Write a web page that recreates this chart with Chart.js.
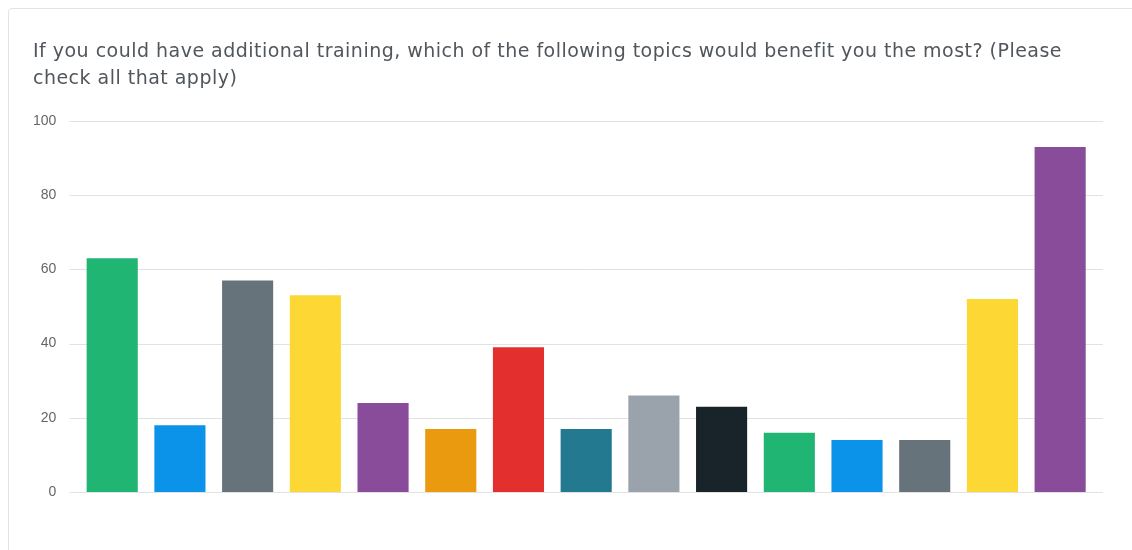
<!DOCTYPE html>
<html>
<head>
<meta charset="utf-8">
<script src="https://cdn.jsdelivr.net/npm/chart.js@4"></script>
<style>
    html, body { margin: 0; padding: 0; background: #fff; }
    body { width: 1132px; height: 550px; overflow: hidden; position: relative; }
    .card {
        position: absolute; left: 8px; top: 8px; width: 1140px; height: 560px;
        border: 1px solid #e3e3e3; border-radius: 4px; box-sizing: border-box;
    }
    .title {
        position: absolute; left: 33px; top: 37px; margin: 0;
        font-family: 'DejaVu Sans', sans-serif; font-size: 19px; font-weight: normal;
        letter-spacing: 0.48px; line-height: 27px; color: #50565b; white-space: nowrap;
    }
    .wrap { position: absolute; left: 9px; top: 9px; width: 1123px; height: 541px; }
</style>
</head>
<body>
<div class="card"></div>
<div class="wrap"><canvas id="trainingChart"></canvas></div>
<h2 class="title" id="chartTitle"></h2>
<script>
const ctx = document.getElementById('trainingChart').getContext('2d');

// Ответы по темам обучения (подписей на оси X нет)
const topics = ['1', '2', '3', '4', '5', '6', '7', '8', '9', '10', '11', '12', '13', '14', '15'];
const responses = [63, 18, 57, 53, 24, 17, 39, 17, 26, 23, 16, 14, 14, 52, 93];
const barColors = [
    '#21b573', '#0a93e8', '#67737b', '#fdd835', '#884c9b',
    '#e99a0e', '#e42f2f', '#227990', '#9aa3ab', '#18232a',
    '#21b573', '#0a93e8', '#67737b', '#fdd835', '#884c9b'
];
const yTicks = [0, 20, 40, 60, 80, 100];
const titleLines = [
    'If you could have additional training, which of the following topics would benefit you the most? (Please',
    'check all that apply)'
];

// Заголовок — обычный текст над холстом
const titleEl = document.getElementById('chartTitle');
titleLines.forEach(function(line, i) {
    if (i > 0) titleEl.appendChild(document.createElement('br'));
    titleEl.appendChild(document.createTextNode(line));
});

// Сетка чуть шире области графика с обеих сторон
const gridPlugin = {
    id: 'wideGrid',
    beforeDatasetsDraw(chart) {
        const { ctx, chartArea, scales } = chart;
        ctx.save();
        ctx.strokeStyle = '#e2e2e2';
        ctx.lineWidth = 1;
        yTicks.forEach(function(v) {
            const y = Math.round(scales.y.getPixelForValue(v)) + 0.5;
            ctx.beginPath();
            ctx.moveTo(chartArea.left - 9, y);
            ctx.lineTo(chartArea.right + 9, y);
            ctx.stroke();
        });
        ctx.restore();
    }
};

new Chart(ctx, {
    type: 'bar',
    data: {
        labels: topics,
        datasets: [{
            data: responses,
            backgroundColor: barColors,
            borderWidth: 0,
            barPercentage: 0.755,
            categoryPercentage: 1
        }]
    },
    options: {
        responsive: true,
        maintainAspectRatio: false,
        animation: false,
        layout: { padding: { left: 10, right: 38, top: 112, bottom: 50 } },
        plugins: {
            legend: { display: false },
            tooltip: { enabled: false },
            title: { display: false }
        },
        scales: {
            x: {
                grid: { display: false },
                border: { display: false },
                ticks: { display: false }
            },
            y: {
                min: 0,
                max: 100,
                afterBuildTicks: function(axis) {
                    axis.ticks = yTicks.map(function(v) { return { value: v }; });
                },
                grid: { display: false },
                border: { display: false },
                ticks: {
                    color: '#666',
                    padding: 14,
                    font: { family: 'Liberation Sans', size: 14 }
                }
            }
        }
    },
    plugins: [gridPlugin]
});
</script>
</body>
</html>
